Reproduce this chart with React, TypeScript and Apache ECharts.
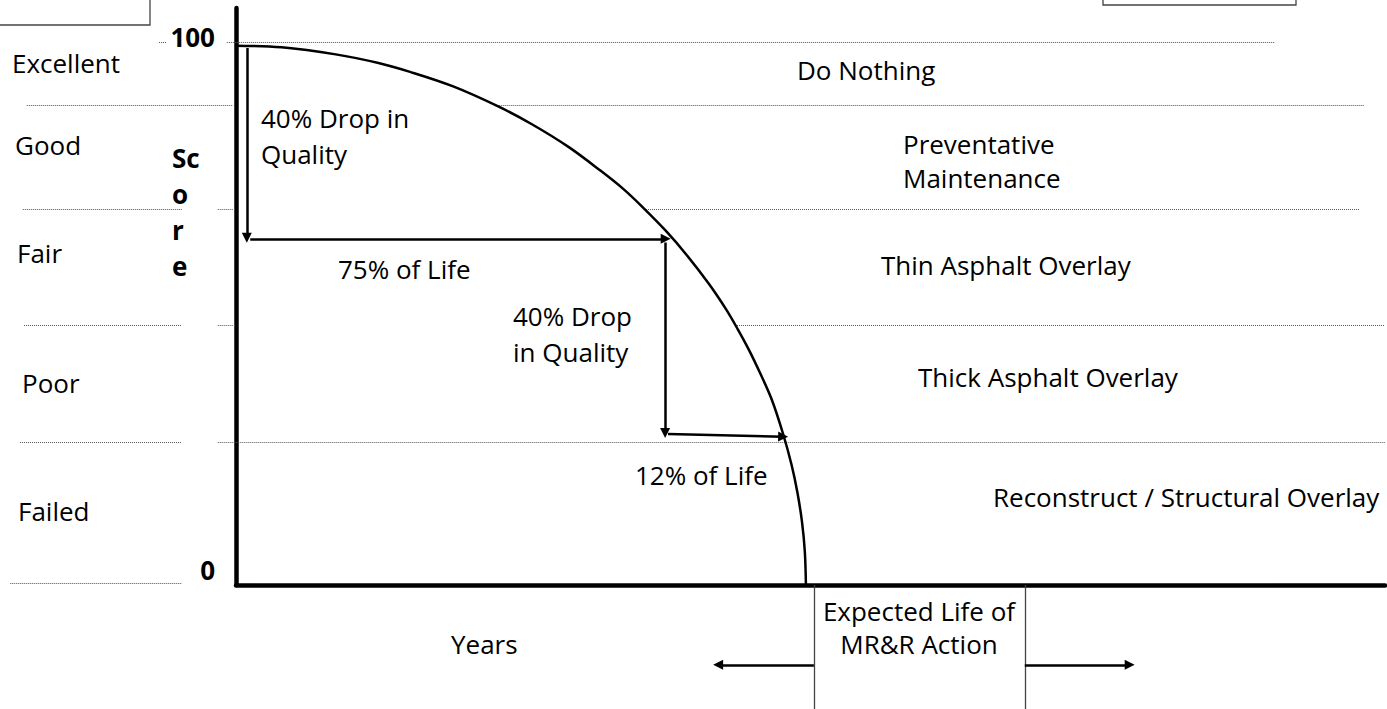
import { useEffect, useRef } from "react";
import * as echarts from "echarts";

// ---- Data ----
// Deterioration curve: % of life vs condition score
const lifePct = [0, 8, 17.5, 25, 30.4, 38, 46.1, 52, 58.4, 64, 68, 71.6, 75.4, 79, 83, 86, 88, 90, 92, 94, 96, 97.5, 98.5, 99.3, 99.8, 100];
const score = [100, 99.7, 98.4, 96.8, 95.2, 92.5, 88.7, 85.4, 81.2, 76.8, 73.4, 69.8, 65.7, 61.3, 55.8, 51.1, 47.5, 43.6, 39.2, 34.4, 28, 22.2, 17.2, 11.8, 6.3, 0];

// Condition bands and their boundaries (score) with the visible dotted segments (life % units)
const conditionLabels = ["Excellent", "Good", "Fair", "Poor", "Failed"];
const actionLabels = [
  "Do Nothing",
  "Preventative\nMaintenance",
  "Thin Asphalt Overlay",
  "Thick Asphalt Overlay",
  "Reconstruct / Structural Overlay",
];
const bandBoundaries = [100.6, 89.0, 69.6, 48.1, 26.5, 0.4];
const bandSegments: number[][][] = [
  [[-13.5, -12.1], [-1.6, 182.3]],
  [[-36.7, -0.5], [46.1, 197.9]],
  [[-37.4, -9.5], [-3.2, -0.5], [71.6, 197.2]],
  [[-37.2, -9.5], [-3.2, -0.5], [87.9, 201.6]],
  [[-37.9, -9.5], [-3.2, 201.6]],
  [[-39.6, -9.5]],
];

// Arrows: [from, to] in (life %, score)
const arrows: number[][][] = [
  [[1.9, 99.6], [1.9, 64.4]],
  [[2.5, 64.2], [75.4, 64.2]],
  [[75.3, 63.5], [75.3, 28.2]],
  [[75.8, 28.0], [96.0, 27.5]],
  [[101.4, -14.8], [84.6, -14.8]],
  [[138.4, -14.8], [156.8, -14.8]],
];
const arrowLabels = ["40% Drop in\nQuality", "75% of Life", "40% Drop\nin Quality", "12% of Life"];

// "Expected Life of MR&R Action" box edges (life %)
const boxEdges = [101.4, 138.4];
const boxLabel = "Expected Life of\nMR&R Action";

const yTickLabels = [0, 100];
const yAxisTitle = "Sc\no\nr\ne";
const xAxisTitle = "Years";

const X_MIN = -41.4;
const X_MAX = 201.6;
const Y_MIN = -23;
const Y_MAX = 107;

const FONT = "'Open Sans', 'Noto Sans', sans-serif";
const FS = 26;

export default function App() {
  const ref = useRef<HTMLDivElement>(null);

  useEffect(() => {
    if (!ref.current) return;
    const chart = echarts.init(ref.current, undefined, { renderer: "svg" });

    const dottedData: any[] = [];
    bandSegments.forEach((segs, i) => {
      segs.forEach((s) => {
        dottedData.push({ coords: [[s[0], bandBoundaries[i]], [s[1], bandBoundaries[i]]] });
      });
    });

    const boxData = boxEdges.map((x) => ({ coords: [[x, 0], [x, Y_MIN]] }));

    const txt = (text: string, x: number, y: number, opts: any = {}) => ({
      type: "text",
      silent: true,
      z: 10,
      style: {
        text,
        x,
        y,
        fill: "#000",
        fontFamily: FONT,
        fontSize: FS,
        align: "left",
        verticalAlign: "middle",
        ...opts,
      },
    });

    const option: any = {
      animation: false,
      backgroundColor: "#fff",
      grid: [
        { left: 0, top: 8, width: 1385, height: 701 },
        { left: 236, top: 8, width: 1149, height: 577 },
      ],
      xAxis: [
        { gridIndex: 0, type: "value", min: X_MIN, max: X_MAX, show: false },
        {
          gridIndex: 1,
          type: "value",
          min: 0,
          max: X_MAX,
          axisLine: { show: true, lineStyle: { color: "#000", width: 4.5 } },
          axisTick: { show: false },
          axisLabel: { show: false },
          splitLine: { show: false },
        },
      ],
      yAxis: [
        { gridIndex: 0, type: "value", min: Y_MIN, max: Y_MAX, show: false },
        {
          gridIndex: 1,
          type: "value",
          min: 0,
          max: Y_MAX,
          interval: 100,
          axisLine: { show: true, lineStyle: { color: "#000", width: 4.5 } },
          axisTick: { show: false },
          splitLine: { show: false },
          axisLabel: {
            margin: 21,
            formatter: (v: number) =>
              yTickLabels.indexOf(v) < 0 ? "" : v === 100 ? "{a|" + v + "}" : "{b|" + v + "}",
            rich: {
              a: { fontFamily: FONT, fontSize: FS, fontWeight: "bold", color: "#000", padding: [0, 0, 18, 0] },
              b: { fontFamily: FONT, fontSize: FS, fontWeight: "bold", color: "#000", padding: [0, 0, 31, 0] },
            },
          },
        },
      ],
      series: [
        {
          type: "lines",
          name: "bands",
          coordinateSystem: "cartesian2d",
          xAxisIndex: 0,
          yAxisIndex: 0,
          silent: true,
          symbol: ["none", "none"],
          lineStyle: { color: "#555", width: 1, type: [1, 1], opacity: 1 },
          data: dottedData,
        },
        {
          type: "line",
          name: "condition",
          xAxisIndex: 0,
          yAxisIndex: 0,
          data: lifePct.map((x, i) => [x, score[i]]),
          showSymbol: false,
          smooth: 0.35,
          lineStyle: { color: "#000", width: 2.5 },
          z: 3,
        },
        {
          type: "lines",
          name: "arrows",
          coordinateSystem: "cartesian2d",
          xAxisIndex: 0,
          yAxisIndex: 0,
          silent: true,
          symbol: ["none", "triangle"],
          symbolSize: 10,
          lineStyle: { color: "#000", width: 2.5, opacity: 1 },
          data: arrows.map((c) => ({ coords: c })),
          z: 4,
        },
        {
          type: "lines",
          name: "box",
          coordinateSystem: "cartesian2d",
          xAxisIndex: 0,
          yAxisIndex: 0,
          silent: true,
          symbol: ["none", "none"],
          lineStyle: { color: "#444", width: 1.3, opacity: 1 },
          data: boxData,
        },
      ],
      graphic: [
        { type: "rect", silent: true, shape: { x: -2, y: -2, width: 152, height: 27 }, style: { fill: "none", stroke: "#444", lineWidth: 1.3 } },
        { type: "rect", silent: true, shape: { x: 1103, y: -3, width: 193, height: 8 }, style: { fill: "none", stroke: "#444", lineWidth: 1.3 } },
        txt(conditionLabels[0], 12, 63),
        txt(conditionLabels[1], 15, 145),
        txt(conditionLabels[2], 17, 253),
        txt(conditionLabels[3], 22, 383),
        txt(conditionLabels[4], 18, 511),
        txt(yAxisTitle, 172, 140, { fontWeight: "bold", verticalAlign: "top", lineHeight: 36 }),
        txt(arrowLabels[0], 261, 100, { verticalAlign: "top", lineHeight: 36 }),
        txt(arrowLabels[1], 338, 269),
        txt(arrowLabels[2], 513, 298, { verticalAlign: "top", lineHeight: 36 }),
        txt(arrowLabels[3], 635, 475),
        txt(actionLabels[0], 797, 70),
        txt(actionLabels[1], 903, 127, { verticalAlign: "top", lineHeight: 34 }),
        txt(actionLabels[2], 881, 265),
        txt(actionLabels[3], 918, 377),
        txt(actionLabels[4], 993, 497),
        txt(xAxisTitle, 451, 644),
        txt(boxLabel, 919, 594.5, { align: "center", verticalAlign: "top", lineHeight: 33 }),
      ],
    };

    chart.setOption(option);
    return () => chart.dispose();
  }, []);

  return (
    <div
      ref={ref}
      style={{ position: "fixed", left: 0, top: 0, width: 1387, height: 709, background: "#fff" }}
    />
  );
}
